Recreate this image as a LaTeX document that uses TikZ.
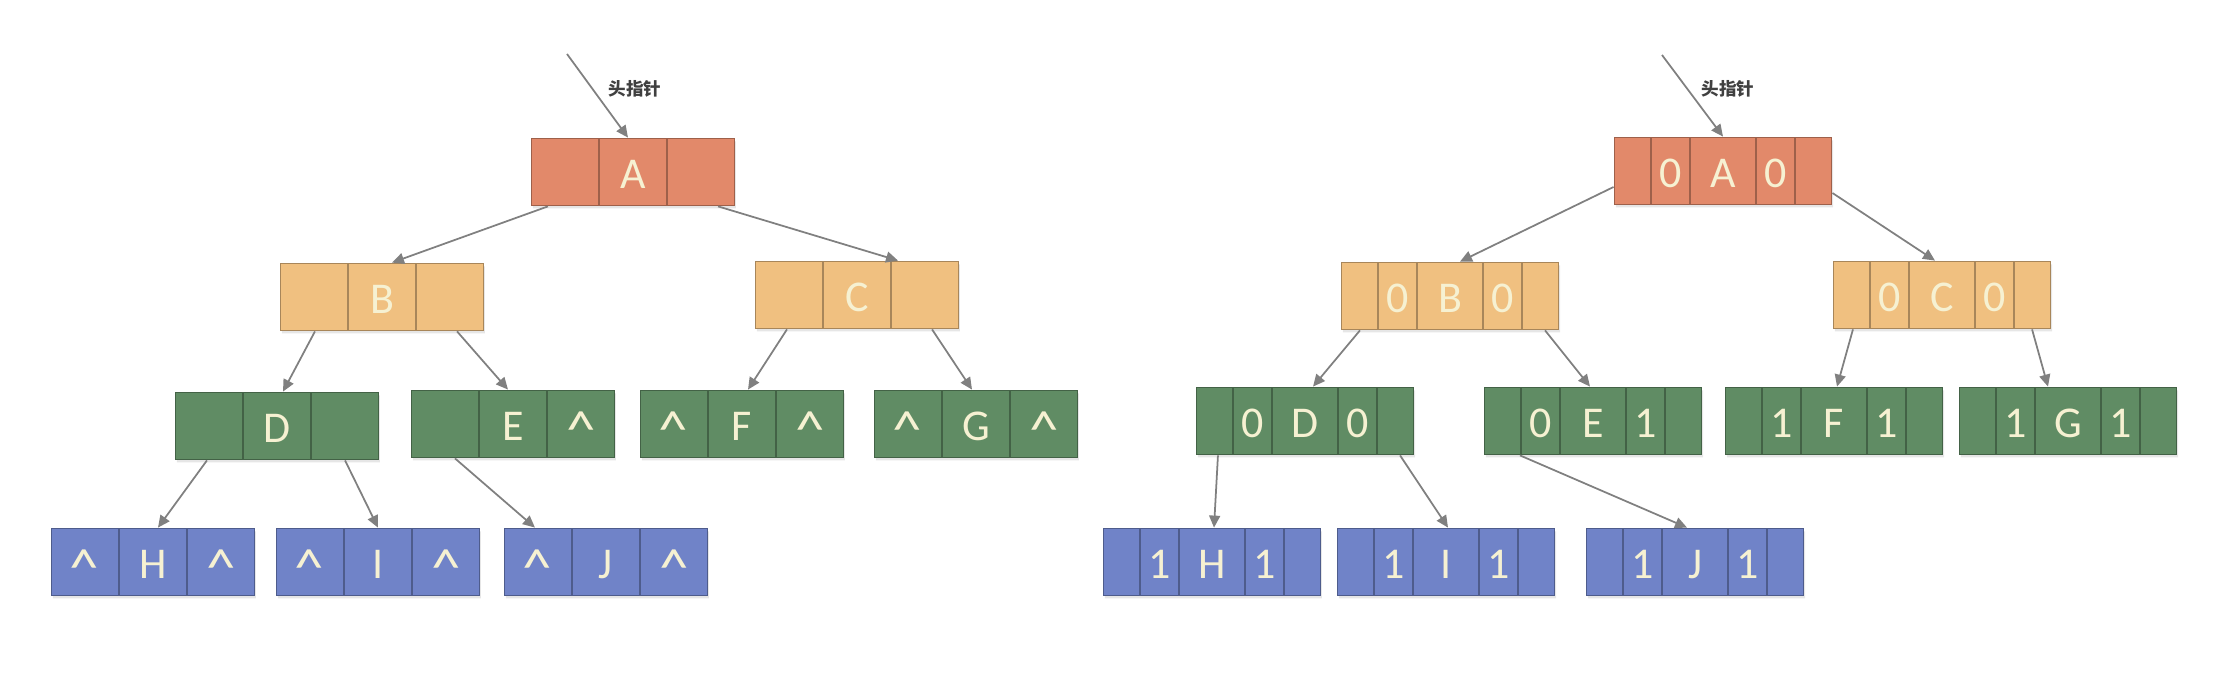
\documentclass[tikz,border=0pt]{standalone}
\usepackage{fontspec}
\usepackage{tikz}
\usetikzlibrary{arrows.meta,positioning,shapes.multipart,shadows}

\newfontfamily\cellfont{Carlito}
\newfontfamily\cjkfont{Noto Sans CJK SC}

\definecolor{rootcol}{HTML}{E2896A}
\definecolor{midcol}{HTML}{F0C080}
\definecolor{innercol}{HTML}{608C64}
\definecolor{leafcol}{HTML}{7083C8}
\definecolor{celltext}{HTML}{F6F1D2}
\definecolor{ptrgray}{HTML}{808080}

\newcommand{\recpart}[2]{\makebox[#1cm]{\vrule height 0.5cm depth 0.17cm width 0pt #2}}
\newcommand{\tripart}[3]{\recpart{0.665}{#1}\nodepart{two}\recpart{0.665}{#2}\nodepart{three}\recpart{0.665}{#3}}
\newcommand{\quintpart}[3]{\recpart{0.36}{}\nodepart{two}\recpart{0.37}{#1}\nodepart{three}\recpart{0.64}{#2}\nodepart{four}\recpart{0.37}{#3}\nodepart{five}\recpart{0.36}{}}
\newcommand{\nil}{\raisebox{-0.07cm}{\scalebox{1.35}[1.2]{\textasciicircum}}}

\begin{document}
\begin{tikzpicture}[
  x=0.01cm, y=-0.01cm,
  rec/.style={
    rectangle split,
    rectangle split horizontal,
    rectangle split parts=#1,
    line width=0.5pt,
    inner xsep=0pt,
    inner ysep=0pt,
    text=celltext,
    font={\cellfont\fontsize{12.5}{14}\selectfont},
    drop shadow={shadow xshift=0.4pt, shadow yshift=-0.8pt, opacity=0.2}
  },
  rootbox/.style={rec=#1, fill=rootcol, draw=rootcol!70!black},
  midbox/.style={rec=#1, fill=midcol, draw=midcol!70!black},
  innerbox/.style={rec=#1, fill=innercol, draw=innercol!70!black},
  leafbox/.style={rec=#1, fill=leafcol, draw=leafcol!70!black},
  headlbl/.style={font={\fontsize{5}{6}\selectfont\cjkfont\bfseries}, text=black!75},
  ptr/.style={-{Triangle[length=1.2mm, width=1.1mm]}, draw=ptrgray, line width=0.5pt}
]
\useasboundingbox (0,0) rectangle (2239,674);

% left tree: plain binary list
\node[rootbox=3] (A) at (633,172) {\tripart{}{A}{}};
\node[midbox=3] (B) at (382,297) {\tripart{}{B}{}};
\node[midbox=3] (C) at (857,295) {\tripart{}{C}{}};
\node[innerbox=3] (D) at (277,426) {\tripart{}{D}{}};
\node[innerbox=3] (E) at (513,424) {\tripart{}{E}{\nil}};
\node[innerbox=3] (F) at (742,424) {\tripart{\nil}{F}{\nil}};
\node[innerbox=3] (G) at (976,424) {\tripart{\nil}{G}{\nil}};
\node[leafbox=3] (H) at (153,562) {\tripart{\nil}{H}{\nil}};
\node[leafbox=3] (I) at (378,562) {\tripart{\nil}{I}{\nil}};
\node[leafbox=3] (J) at (606,562) {\tripart{\nil}{J}{\nil}};

\coordinate (headL) at (567,54);
\node[headlbl] (lblL) at (635,89) {头指针};

\draw[ptr] (headL) -- ([xshift=-0.05cm]A.north);
\draw[ptr] ([xshift=-0.85cm]A.south) -- ([xshift=0.10cm]B.north);
\draw[ptr] ([xshift=0.85cm]A.south) -- ([xshift=0.41cm]C.north);
\draw[ptr] ([xshift=-0.67cm]B.south) -- ([xshift=0.06cm]D.north);
\draw[ptr] ([xshift=0.75cm]B.south) -- ([xshift=-0.05cm]E.north);
\draw[ptr] ([xshift=-0.70cm]C.south) -- ([xshift=0.06cm]F.north);
\draw[ptr] ([xshift=0.75cm]C.south) -- ([xshift=-0.04cm]G.north);
\draw[ptr] ([xshift=-0.70cm]D.south) -- ([xshift=0.05cm]H.north);
\draw[ptr] ([xshift=0.68cm]D.south) -- (I.north);
\draw[ptr] ([xshift=-0.58cm]E.south) -- ([xshift=-0.71cm]J.north);

% right tree: threaded, with ltag / rtag
\node[rootbox=5] (rA) at (1723,171) {\quintpart{0}{A}{0}};
\node[midbox=5] (rB) at (1450,296) {\quintpart{0}{B}{0}};
\node[midbox=5] (rC) at (1942,295) {\quintpart{0}{C}{0}};
\node[innerbox=5] (rD) at (1305,421) {\quintpart{0}{D}{0}};
\node[innerbox=5] (rE) at (1593,421) {\quintpart{0}{E}{1}};
\node[innerbox=5] (rF) at (1834,421) {\quintpart{1}{F}{1}};
\node[innerbox=5] (rG) at (2068,421) {\quintpart{1}{G}{1}};
\node[leafbox=5] (rH) at (1212,562) {\quintpart{1}{H}{1}};
\node[leafbox=5] (rI) at (1446,562) {\quintpart{1}{I}{1}};
\node[leafbox=5] (rJ) at (1695,562) {\quintpart{1}{J}{1}};

\coordinate (headR) at (1662,55);
\node[headlbl] (lblR) at (1728,89) {头指针};

\draw[ptr] (headR) -- (rA.north);
\draw[ptr] ([yshift=-0.16cm]rA.west) -- ([xshift=0.10cm]rB.north);
\draw[ptr] ([yshift=-0.22cm]rA.east) -- ([xshift=-0.07cm]rC.north);
\draw[ptr] ([xshift=-0.90cm]rB.south) -- ([xshift=0.08cm]rD.north);
\draw[ptr] ([xshift=0.95cm]rB.south) -- ([xshift=-0.03cm]rE.north);
\draw[ptr] ([xshift=-0.89cm]rC.south) -- ([xshift=0.03cm]rF.north);
\draw[ptr] ([xshift=0.90cm]rC.south) -- ([xshift=-0.20cm]rG.north);
\draw[ptr] ([xshift=-0.87cm]rD.south) -- ([xshift=0.02cm]rH.north);
\draw[ptr] ([xshift=0.95cm]rD.south) -- ([xshift=0.02cm]rI.north);
\draw[ptr] ([xshift=-0.73cm]rE.south) -- ([xshift=-0.08cm]rJ.north);
\end{tikzpicture}
\end{document}
